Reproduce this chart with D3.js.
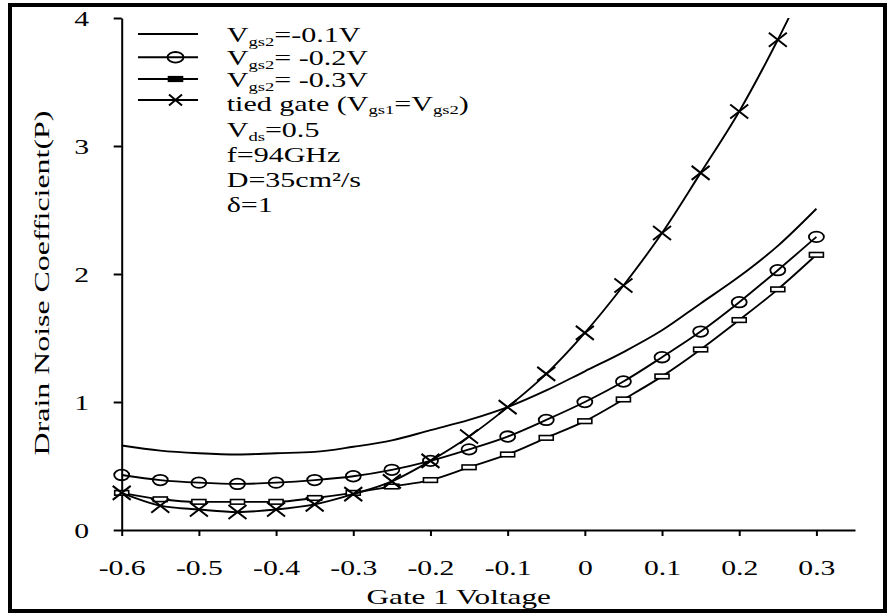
<!DOCTYPE html>
<html>
<head>
<meta charset="utf-8">
<script src="https://cdn.jsdelivr.net/npm/d3@7/dist/d3.min.js"></script>
<style>
  html, body { margin: 0; padding: 0; background: #fff; }
  svg { display: block; }
  text { font-family: "Liberation Serif", "Times New Roman", serif; fill: #000; }
</style>
</head>
<body>
<svg id="chart" width="891" height="614"></svg>
<script>
// ---------- data ----------
const gateVoltage = [-0.6, -0.55, -0.5, -0.45, -0.4, -0.35, -0.3, -0.25, -0.2, -0.15, -0.1, -0.05, 0, 0.05, 0.1, 0.15, 0.2, 0.25, 0.3];
const vgs2Minus01 = [0.66, 0.62, 0.60, 0.59, 0.60, 0.61, 0.65, 0.70, 0.78, 0.86, 0.96, 1.09, 1.24, 1.39, 1.56, 1.77, 1.98, 2.22, 2.51];
const vgs2Minus02 = [0.43, 0.39, 0.37, 0.36, 0.37, 0.39, 0.42, 0.47, 0.54, 0.63, 0.73, 0.86, 1.00, 1.16, 1.35, 1.55, 1.78, 2.03, 2.29];
const vgs2Minus03 = [0.29, 0.24, 0.22, 0.22, 0.22, 0.25, 0.29, 0.34, 0.39, 0.49, 0.59, 0.72, 0.85, 1.02, 1.20, 1.41, 1.64, 1.88, 2.15];
const tiedGate    = [0.29, 0.19, 0.16, 0.14, 0.16, 0.20, 0.28, 0.38, 0.54, 0.73, 0.96, 1.22, 1.54, 1.91, 2.32, 2.79, 3.27, 3.83, 4.45];
const xTicks = [-0.6, -0.5, -0.4, -0.3, -0.2, -0.1, 0, 0.1, 0.2, 0.3];
const xTickLabels = ["-0.6", "-0.5", "-0.4", "-0.3", "-0.2", "-0.1", "0", "0.1", "0.2", "0.3"];
const yTicks = [0, 1, 2, 3, 4];
const xTitle = "Gate 1 Voltage";
const yTitle = "Drain Noise Coefficient(P)";

// ---------- setup ----------
const svg = d3.select("#chart");
const SX = 1.38; // horizontal text stretch seen in the reference
const x = d3.scaleLinear().domain([-0.6, 0.35]).range([121.7, 855]);
const y = d3.scaleLinear().domain([0, 4]).range([530, 18]);

// outer frame
svg.append("rect").attr("x", 10).attr("y", 5).attr("width", 875).attr("height", 606)
  .attr("fill", "none").attr("stroke", "#000").attr("stroke-width", 4);

// axes
const xAxis = svg.append("g").attr("transform", `translate(0,${y(0)})`)
  .call(d3.axisBottom(x).tickValues(xTicks).tickSize(6).tickSizeOuter(0)
    .tickFormat((d, i) => xTickLabels[i]));
const yAxis = svg.append("g").attr("transform", `translate(${x(-0.6)},0)`)
  .call(d3.axisLeft(y).tickValues(yTicks).tickSize(8).tickSizeOuter(0).tickFormat(d => String(d)));
[xAxis, yAxis].forEach(a => {
  a.select(".domain").attr("stroke", "#000").attr("stroke-width", 2);
  a.selectAll(".tick line").attr("stroke", "#000").attr("stroke-width", 2);
});
xAxis.selectAll(".tick text").attr("y", 45).attr("dy", 0)
  .attr("font-size", 21.5).attr("transform", `scale(${SX},1)`);
yAxis.selectAll(".tick text").attr("x", -32.7 / SX).attr("dy", "0.33em")
  .attr("font-size", 21.5).attr("text-anchor", "end").attr("transform", `scale(${SX},1)`);

// axis titles
svg.append("g").attr("transform", `translate(458.7,604) scale(1.42,1)`)
  .append("text").attr("text-anchor", "middle").attr("font-size", 22).text(xTitle);
svg.append("g").attr("transform", `translate(49,283) rotate(-90) scale(1.45,1)`)
  .append("text").attr("text-anchor", "middle").attr("font-size", 22).text(yTitle);

// ---------- series ----------
const clipId = "plotclip";
svg.append("defs").append("clipPath").attr("id", clipId)
  .append("rect").attr("x", 100).attr("y", y(4)).attr("width", 780).attr("height", y(0) - y(4) + 20);
const plot = svg.append("g").attr("clip-path", `url(#${clipId})`);

const line = d3.line().x(d => x(d[0])).y(d => y(d[1])).curve(d3.curveMonotoneX);
const series = [
  { values: vgs2Minus01, marker: "none" },
  { values: vgs2Minus02, marker: "circle" },
  { values: vgs2Minus03, marker: "rect" },
  { values: tiedGate, marker: "cross" }
];

function drawMarker(g, type, cx, cy, legend) {
  if (type === "circle") {
    g.append("ellipse").attr("cx", cx).attr("cy", cy).attr("rx", legend ? 8 : 7.5).attr("ry", 5.3)
      .attr("fill", "none").attr("stroke", "#000").attr("stroke-width", 1.8);
  } else if (type === "rect") {
    g.append("rect").attr("x", cx - 7).attr("y", cy - 2.3).attr("width", 14).attr("height", 4.6)
      .attr("fill", legend ? "#000" : "#fff").attr("stroke", "#000").attr("stroke-width", 1.6);
  } else if (type === "cross") {
    const hw = legend ? 6.5 : 9, hh = legend ? 5.5 : 7;
    g.append("path").attr("d", `M${cx - hw},${cy - hh}L${cx + hw},${cy + hh}M${cx - hw},${cy + hh}L${cx + hw},${cy - hh}`)
      .attr("stroke", "#000").attr("stroke-width", 2).attr("fill", "none");
  }
}

series.forEach(s => {
  const pts = gateVoltage.map((v, i) => [v, s.values[i]]);
  plot.append("path").datum(pts).attr("d", line)
    .attr("fill", "none").attr("stroke", "#000").attr("stroke-width", 1.9);
  if (s.marker !== "none") {
    pts.forEach(p => drawMarker(plot, s.marker, x(p[0]), y(p[1]), false));
  }
});

// ---------- legend ----------
const legendLineY = [34, 57.3, 79, 100];
const legendMarkers = ["none", "circle", "rect", "cross"];
const leg = svg.append("g");
legendLineY.forEach((ly, i) => {
  leg.append("line").attr("x1", 138).attr("x2", 198).attr("y1", ly).attr("y2", ly)
    .attr("stroke", "#000").attr("stroke-width", 1.9);
  drawMarker(leg, legendMarkers[i], 175.5, ly, true);
});

const legendRows = [
  [["V", 0], ["gs2", 1], ["=-0.1V", 0]],
  [["V", 0], ["gs2", 1], ["= -0.2V", 0]],
  [["V", 0], ["gs2", 1], ["= -0.3V", 0]],
  [["tied gate (V", 0], ["gs1", 1], ["=V", 0], ["gs2", 1], [")", 0]],
  [["V", 0], ["ds", 1], ["=0.5", 0]],
  [["f=94GHz", 0]],
  [["D=35cm²/s", 0]],
  [["δ=1", 0]]
];
const legendBaselines = [41.7, 65, 87.3, 110.5, 137.3, 162.3, 187.3, 211.7];
const LSX = 1.43, LFS = 21;
legendRows.forEach((row, i) => {
  const t = leg.append("g").attr("transform", `translate(226.7,${legendBaselines[i]}) scale(${LSX},1)`)
    .append("text").attr("font-size", LFS);
  let prevSub = 0;
  row.forEach(([str, sub]) => {
    const dy = sub ? 3.8 : (prevSub ? -3.8 : 0);
    t.append("tspan").attr("dy", dy).attr("font-size", sub ? 13 : LFS).text(str);
    prevSub = sub;
  });
});
</script>
</body>
</html>
